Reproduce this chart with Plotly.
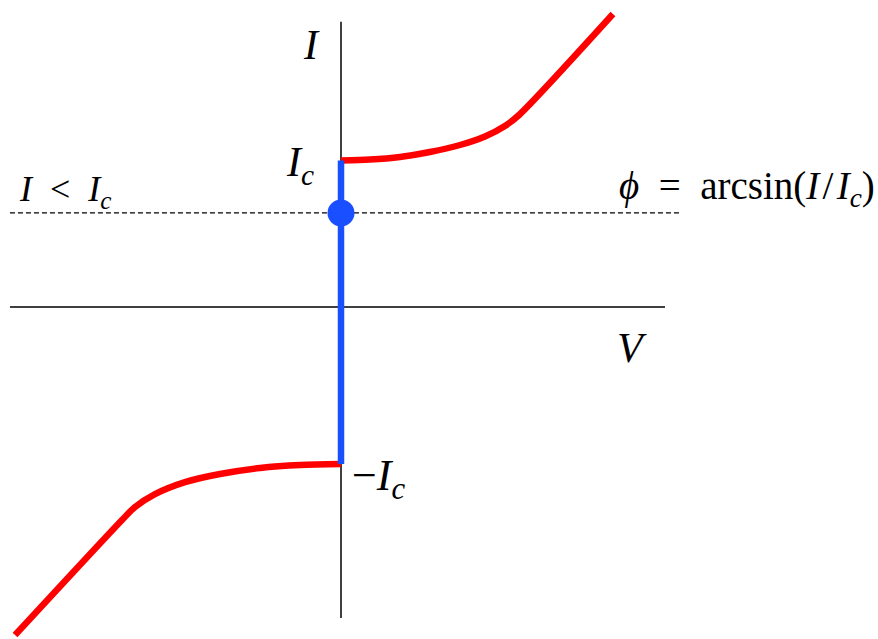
import plotly.graph_objects as go

# Current-voltage characteristic of a Josephson junction (schematic units)
ic_top = 0.977
ic_bottom = -1.047
bias_level = 0.627

# Resistive branch above +Ic
upper_v = [0.0, 0.193, 0.393, 0.593, 0.793, 0.96, 1.093, 1.187, 1.813]
upper_i = [0.977, 0.983, 1.0, 1.033, 1.08, 1.137, 1.207, 1.28, 1.953]

# Resistive branch below -Ic
lower_v = [0.0, -0.273, -0.54, -0.807, -1.04, -1.24, -1.373, -1.46, -2.173]
lower_i = [-1.047, -1.053, -1.073, -1.113, -1.167, -1.247, -1.333, -1.42, -2.187]

# Axis extents
v_axis = [-2.207, 2.16]
i_axis = [-2.073, 1.902]
dash_v = [-2.207, 2.26]

serif = "Liberation Serif, DejaVu Serif, serif"

fig = go.Figure()

# coordinate axes
fig.add_trace(go.Scatter(x=v_axis, y=[0, 0], mode="lines",
                         line=dict(color="black", width=1.5), hoverinfo="skip"))
fig.add_trace(go.Scatter(x=[0, 0], y=i_axis, mode="lines",
                         line=dict(color="black", width=1.5), hoverinfo="skip"))

# bias current level (I < Ic)
fig.add_trace(go.Scatter(x=dash_v, y=[bias_level, bias_level], mode="lines",
                         line=dict(color="black", width=1.3, dash="5px,3px"), hoverinfo="skip"))

# resistive branches
fig.add_trace(go.Scatter(x=upper_v, y=upper_i, mode="lines",
                         line=dict(color="#ff0000", width=6.5, shape="spline", smoothing=0.8)))
fig.add_trace(go.Scatter(x=lower_v, y=lower_i, mode="lines",
                         line=dict(color="#ff0000", width=6.5, shape="spline", smoothing=0.8)))

# zero-voltage supercurrent branch
fig.add_trace(go.Scatter(x=[0, 0], y=[ic_top, ic_bottom], mode="lines",
                         line=dict(color="#1a4fff", width=6.5)))
fig.add_trace(go.Scatter(x=[0], y=[bias_level], mode="markers",
                         marker=dict(color="#1a4fff", size=27)))

def label(text, x, y, size, xanchor="center"):
    fig.add_annotation(x=x, y=y, text=text, showarrow=False, xanchor=xanchor,
                       yanchor="middle", font=dict(family=serif, size=size, color="black"))

label("<i>I</i>", -0.2, 1.747, 42)
label("<i>I</i><sub><i>c</i></sub>", -0.273, 0.947, 42)
label("<i>I</i>&#8194;&lt;&#8194;<i>I</i><sub><i>c</i></sub>", -1.84, 0.77, 36)
label("<i>ϕ</i>&#8194;=&#8194;arcsin(<i>I</i>&#8202;/&#8202;<i>I</i><sub><i>c</i></sub>)",
      2.707, 0.79, 39)
label("<i>V</i>", 1.94, -0.273, 42)
label("−<i>I</i><sub><i>c</i></sub>", 0.247, -1.14, 44)

fig.update_layout(
    width=878, height=639,
    margin=dict(l=0, r=0, t=0, b=0),
    paper_bgcolor="white", plot_bgcolor="white",
    showlegend=False,
    xaxis=dict(range=[-341 / 150, 537 / 150], visible=False, fixedrange=True),
    yaxis=dict(range=[-332 / 150, 307 / 150], visible=False, fixedrange=True),
)

fig.write_html("out.html")
